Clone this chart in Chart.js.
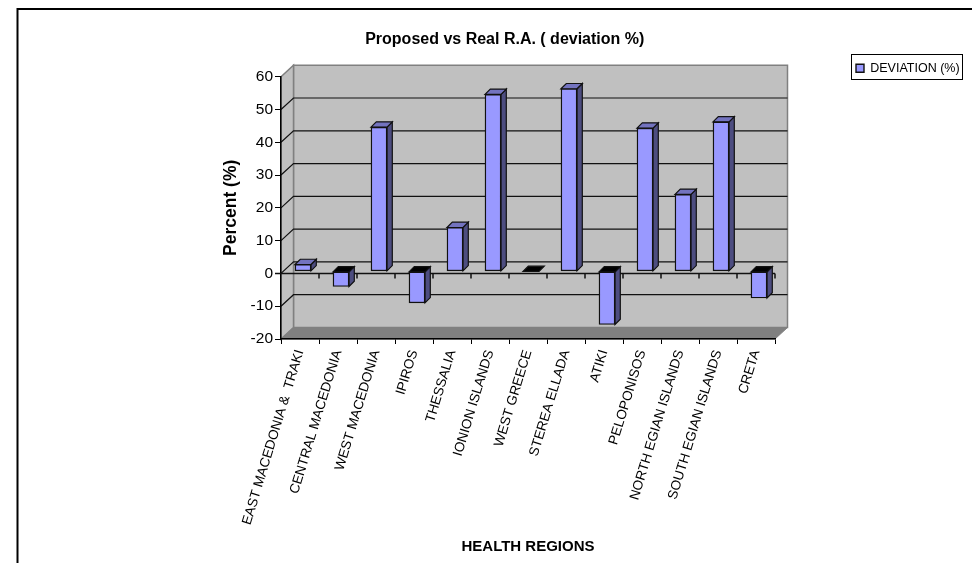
<!DOCTYPE html>
<html>
<head>
<meta charset="utf-8">
<title>Proposed vs Real R.A.</title>
<script src="https://cdn.jsdelivr.net/npm/chart.js@4"></script>
<style>
  html, body { margin: 0; padding: 0; background: #fff; overflow: hidden; }
  canvas { display: block; }
</style>
</head>
<body>
<canvas id="myChart" width="972" height="563"></canvas>
<script>
const regions = [
  "EAST MACEDONIA &  TRAKI",
  "CENTRAL MACEDONIA",
  "WEST MACEDONIA",
  "IPIROS",
  "THESSALIA",
  "IONION ISLANDS",
  "WEST GREECE",
  "STEREA ELLADA",
  "ATIKI",
  "PELOPONISOS",
  "NORTH EGIAN ISLANDS",
  "SOUTH EGIAN ISLANDS",
  "CRETA",
];
const deviation = [2.1, -4.6, 44, -9.6, 13.4, 54, 0, 55.7, -16.2, 43.7, 23.5, 45.6, -8.1];

const FONT = "'Liberation Sans', Arial, sans-serif";

// depth of the walls and of the bars
const wallX = 12.5;
const wallY = 11.5;
const barX = 5.3;
const barY = 5.3;
const barShiftX = 3;
const barShiftY = -2;

function poly(c, pts, fill, stroke, lw) {
  c.beginPath();
  pts.forEach((p, i) => (i ? c.lineTo(p[0], p[1]) : c.moveTo(p[0], p[1])));
  c.closePath();
  if (fill) {
    c.fillStyle = fill;
    c.fill();
  }
  if (stroke) {
    c.strokeStyle = stroke;
    c.lineWidth = lw;
    c.stroke();
  }
}

const box3d = {
  id: "box3d",
  afterLayout(chart) {
    // chart title sits a little right of the full-size box centre
    chart.titleBlock.left += 7;
    chart.titleBlock.right += 7;

    const legend = chart.legend;
    legend.left = 850;
    legend.right = legend.left + legend.width;
    legend.top = 56;
    legend.bottom = legend.top + legend.height;

    // long category labels get cut just under the axis
    const xs = chart.scales.x;
    if (!xs.clipped) {
      const drawLabels = xs.drawLabels;
      xs.drawLabels = function (area) {
        chart.ctx.save();
        chart.ctx.beginPath();
        chart.ctx.rect(0, area.bottom + 6, chart.width, chart.height);
        chart.ctx.clip();
        drawLabels.call(this, area);
        chart.ctx.restore();
      };
      xs.clipped = true;
    }
  },
  beforeDraw(chart) {
    const c = chart.ctx;
    const { left, right, top, bottom } = chart.chartArea;

    // outer frame
    c.save();
    c.strokeStyle = "#000";
    c.lineWidth = 2;
    c.beginPath();
    c.moveTo(17.5, 563);
    c.lineTo(17.5, 9);
    c.lineTo(972, 9);
    c.stroke();

    // legend box
    c.lineWidth = 1;
    c.strokeRect(851.5, 54.5, 111, 25);

    // back wall, side wall, floor
    poly(c, [[left + wallX, top - wallY], [right + wallX, top - wallY], [right + wallX, bottom - wallY], [left + wallX, bottom - wallY]], "#c0c0c0", "#808080", 1.5);
    poly(c, [[left, top], [left + wallX, top - wallY], [left + wallX, bottom - wallY], [left, bottom]], "#c0c0c0", "#808080", 1.5);
    poly(c, [[left, bottom], [left + wallX, bottom - wallY], [right + wallX, bottom - wallY], [right, bottom]], "#808080", "#808080", 1);

    // gridlines run along the side wall and the back wall
    const ys = chart.scales.y;
    c.strokeStyle = "#111";
    c.lineWidth = 1.2;
    ys.ticks.forEach((t) => {
      if (t.value === 60 || t.value === -20) return;
      const py = ys.getPixelForValue(t.value);
      c.beginPath();
      c.moveTo(left, py);
      c.lineTo(left + wallX, py - wallY);
      c.lineTo(right + wallX, py - wallY);
      c.stroke();
    });
    c.restore();
  },
  beforeDatasetsDraw(chart) {
    const c = chart.ctx;
    const { left, right } = chart.chartArea;
    const xs = chart.scales.x;
    const zero = chart.scales.y.getPixelForValue(0);

    // zero line with its tick marks
    c.save();
    c.strokeStyle = "#111";
    c.lineWidth = 1.5;
    c.beginPath();
    c.moveTo(left - 6, zero);
    c.lineTo(right, zero);
    const band = xs.width / regions.length;
    regions.forEach((r, i) => {
      c.moveTo(left + band * (i + 1), zero);
      c.lineTo(left + band * (i + 1), zero + 5);
    });
    c.stroke();
    c.restore();

    c.save();
    c.translate(barShiftX, barShiftY);
    // side and top faces, the library paints the front face over them
    chart.getDatasetMeta(0).data.forEach((el, i) => {
      const p = el.getProps(["x", "y", "base", "width"], true);
      const l = p.x - p.width / 2;
      const r = p.x + p.width / 2;
      const up = Math.min(p.y, p.base);
      const down = Math.max(p.y, p.base);
      const topFill = deviation[i] > 0 ? "#7373bf" : "#000";
      if (down - up > 0.5) {
        poly(c, [[r, up], [r + barX, up - barY], [r + barX, down - barY], [r, down]], "#4d4d80", "#111", 1.2);
      }
      poly(c, [[l, up], [l + barX, up - barY], [r + barX, up - barY], [r, up]], topFill, "#111", 1.2);
    });
  },
  afterDatasetsDraw(chart) {
    chart.ctx.restore();
  },
};

const ctx = document.getElementById("myChart").getContext("2d");

new Chart(ctx, {
  type: "bar",
  data: {
    labels: regions,
    datasets: [
      {
        label: "DEVIATION (%)",
        data: deviation,
        backgroundColor: "#9999ff",
        borderColor: "#111",
        borderWidth: 1.4,
        borderSkipped: false,
        barThickness: 16,
        clip: false,
      },
    ],
  },
  options: {
    responsive: false,
    animation: false,
    layout: { padding: { left: 220.5, right: 197, top: 10, bottom: 7 } },
    plugins: {
      title: {
        display: true,
        text: "Proposed vs Real R.A. ( deviation %)",
        color: "#000",
        font: { family: FONT, size: 16, weight: "bold" },
        padding: { top: 19.7, bottom: 27.8 },
      },
      legend: {
        position: "chartArea",
        align: "start",
        labels: {
          color: "#000",
          boxWidth: 8,
          boxHeight: 8,
          padding: 6,
          font: { family: FONT, size: 12.5 },
        },
      },
      tooltip: { enabled: false },
    },
    scales: {
      x: {
        afterFit(scale) {
          scale.height = 217;
        },
        grid: { drawOnChartArea: false, tickLength: 5, color: "#000" },
        border: { color: "#000", width: 1.5 },
        title: {
          display: true,
          text: "HEALTH REGIONS",
          color: "#000",
          font: { family: FONT, size: 15, weight: "bold" },
          padding: 0,
        },
        ticks: {
          color: "#000",
          autoSkip: false,
          minRotation: 73,
          maxRotation: 73,
          padding: 4,
          font: { family: FONT, size: 13.6 },
        },
      },
      y: {
        min: -20,
        max: 60,
        afterFit(scale) {
          scale.width = 60.5;
        },
        grid: { drawOnChartArea: false, tickLength: 6, color: "#000" },
        border: { color: "#000", width: 1.5 },
        title: {
          display: true,
          text: "Percent (%)",
          color: "#000",
          font: { family: FONT, size: 17.5, weight: "bold" },
          padding: 0,
        },
        ticks: {
          color: "#000",
          stepSize: 10,
          padding: 2,
          font: { family: FONT, size: 15.5 },
        },
      },
    },
  },
  plugins: [box3d],
});
</script>
</body>
</html>
